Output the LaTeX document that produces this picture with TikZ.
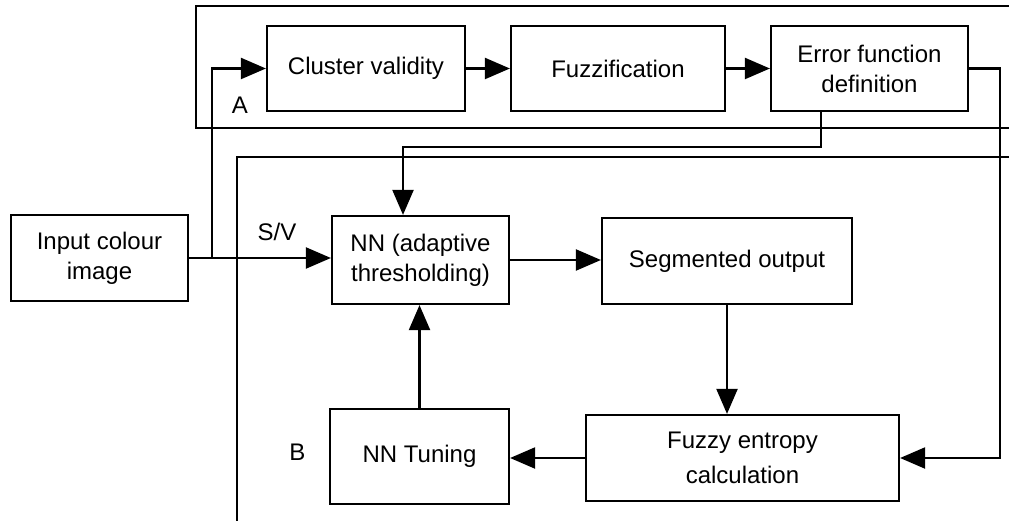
\documentclass[tikz,border=0pt]{standalone}
\usepackage{fontspec}
\setmainfont{Liberation Sans}
\usetikzlibrary{arrows.meta}
\begin{document}
\begin{tikzpicture}[x=1pt,y=-1pt,line width=2.2pt,
  box/.style={draw,line width=2.2pt,inner sep=0pt,align=center,font=\fontsize{24}{30}\selectfont,anchor=center},
  lbl/.style={inner sep=0pt,font=\fontsize{24}{30}\selectfont},
  arr/.style={-{Triangle[length=25pt,width=21pt]}}]
\useasboundingbox (0,0) rectangle (1009,521);
% frames
\draw (1009,6) -- (196,6) -- (196,128) -- (1009,128);
\draw (1009,157) -- (237,157) -- (237,521);
% boxes
\node[box,minimum width=177pt,minimum height=86pt] (in) at (99.5,258) {Input colour\\image};
\node[box,minimum width=198pt,minimum height=85pt] (cv) at (366,68.5) {Cluster validity};
\node[box,minimum width=214pt,minimum height=85pt] (fz) at (618,68.5) {Fuzzification};
\node[box,minimum width=197pt,minimum height=85pt] (ef) at (869.5,68.5) {Error function\\definition};
\node[box,minimum width=177pt,minimum height=88pt] (nn) at (420.5,260) {NN (adaptive\\thresholding)};
\node[box,minimum width=250pt,minimum height=86pt] (so) at (727,261) {Segmented output};
\node[box,minimum width=313pt,minimum height=86pt,font=\fontsize{24}{35}\selectfont] (fe) at (742.5,458) {Fuzzy entropy\\calculation};
\node[box,minimum width=179pt,minimum height=95pt] (nt) at (419.5,456.5) {NN Tuning};
% labels
\node[lbl] (A) at (240,105) {A};
\node[lbl] (SV) at (277,232) {S/V};
\node[lbl] (B) at (297.5,452) {B};
% helper coordinates
\coordinate (j1) at (212,258);
\coordinate (e1) at (821,147);
\coordinate (n1) at (403,0);
\coordinate (r1) at (1000,0);
% connectors
\draw[arr] (in.east) -- (in.east -| nn.west);
\draw[arr] (j1) |- (cv.west);
\draw[arr] (cv) -- (fz);
\draw[arr] (fz) -- (ef);
\draw[arr] (ef.south -| e1) -- (e1) -| (n1 |- nn.north);
\draw[arr] (ef.east) -| (r1 |- fe.east) -- (fe.east);
\draw[arr] (nn.east |- 0,260) -- (so.west |- 0,260);
\draw[arr] (so.south) -- (so.south |- fe.north);
\draw[arr] (fe.west) -- (fe.west -| nt.east);
\draw[arr] (nt.north) -- (nt.north |- nn.south);
\end{tikzpicture}
\end{document}
